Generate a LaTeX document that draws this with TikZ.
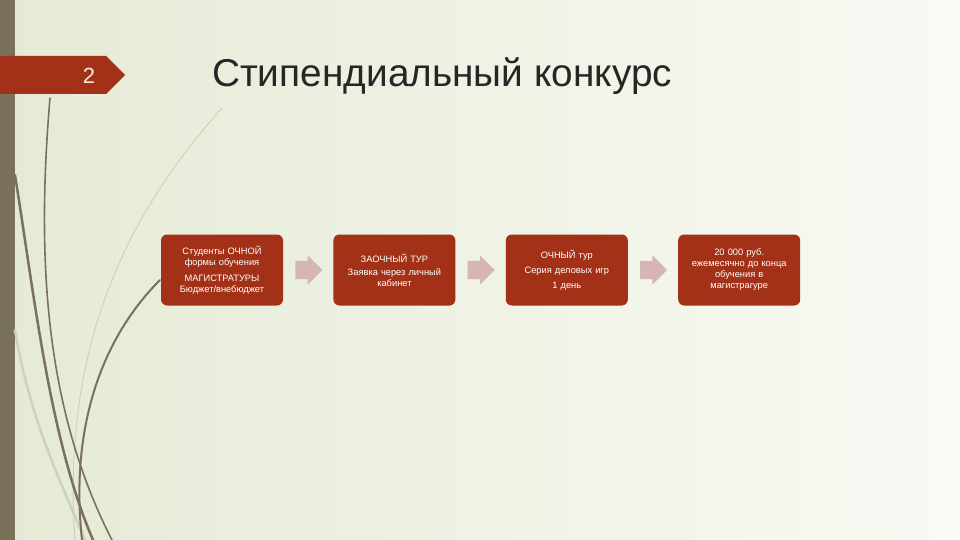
\documentclass[tikz,border=0pt]{standalone}
\usepackage{fontspec}
\setmainfont{Liberation Sans}
\usetikzlibrary{shapes.arrows, positioning, calc}

\definecolor{bgleft}{RGB}{229,234,213}
\definecolor{bgright}{RGB}{249,250,244}
\definecolor{barbrown}{RGB}{122,113,90}
\definecolor{rustred}{RGB}{163,49,24}
\definecolor{arrowpink}{RGB}{214,181,181}
\definecolor{palegrass}{RGB}{203,211,185}
\definecolor{titlegrey}{RGB}{38,38,38}
\definecolor{cream}{RGB}{245,236,220}

\tikzset{
  stagebox/.style={rectangle, rounded corners=6pt, fill=rustred, text=white,
    minimum width=122pt, minimum height=71pt, text width=118pt, align=center,
    inner sep=0pt, font=\fontsize{9.3}{11}\selectfont},
  flowarrow/.style={single arrow, fill=arrowpink, minimum height=27pt,
    inner xsep=0pt, inner ysep=9pt, single arrow head extend=5.5pt, xshift=-4pt},
  grass/.style={draw=barbrown, line cap=round},
  palestroke/.style={draw=palegrass, line cap=round},
}

\begin{document}
\begin{tikzpicture}[x=1pt, y=-1pt]
    \useasboundingbox (0,0) rectangle (960,540);
    \shade[left color=bgleft, right color=bgright] (0,0) rectangle (960,540);
    \fill[barbrown] (0,0) rectangle (15,540);

    % grass blades on the left
    \draw[palestroke, line width=2.5pt] (15,330) .. controls (30,420) and (60,480) .. (85,540);
    \draw[palestroke, line width=1pt] (222,108) .. controls (140,200) and (60,330) .. (75,540);
    \draw[grass, line width=1.6pt] (50,98) .. controls (38,240) and (40,400) .. (112,540);
    \draw[grass, line width=2.5pt] (15,175) .. controls (35,300) and (50,440) .. (93,540);
    \draw[grass, line width=2pt] (160,280) .. controls (100,340) and (70,430) .. (82,540);

    \fill[rustred] (0,56) -- (106,56) -- (125,75) -- (106,94) -- (0,94) -- cycle;
    \node[text=cream, font=\fontsize{22}{24}\selectfont] (num) at (89,76) {2};
    \node[anchor=base west, text=titlegrey, inner sep=0pt,
      font=\fontsize{38.8}{42}\selectfont] (title) at (212,87) {Стипендиальный конкурс};

    \node[stagebox] (students) at (222,270)
      {Студенты ОЧНОЙ\\формы обучения\\[5pt]МАГИСТРАТУРЫ\\Бюджет/внебюджет};
    \node[stagebox, right=50pt of students] (zaochny)
      {ЗАОЧНЫЙ ТУР\\[2pt]Заявка через личный\\кабинет};
    \node[stagebox, right=50pt of zaochny] (ochny)
      {ОЧНЫЙ тур\\[4pt]Серия деловых игр\\[4pt]1 день};
    \node[stagebox, right=50pt of ochny] (grant)
      {20 000 руб.\\ежемесячно до конца\\обучения в\\магистрагуре};

    \node[flowarrow] (a1) at ($(students.east)!0.5!(zaochny.west)$) {};
    \node[flowarrow] (a2) at ($(zaochny.east)!0.5!(ochny.west)$) {};
    \node[flowarrow] (a3) at ($(ochny.east)!0.5!(grant.west)$) {};
\end{tikzpicture}
\end{document}
